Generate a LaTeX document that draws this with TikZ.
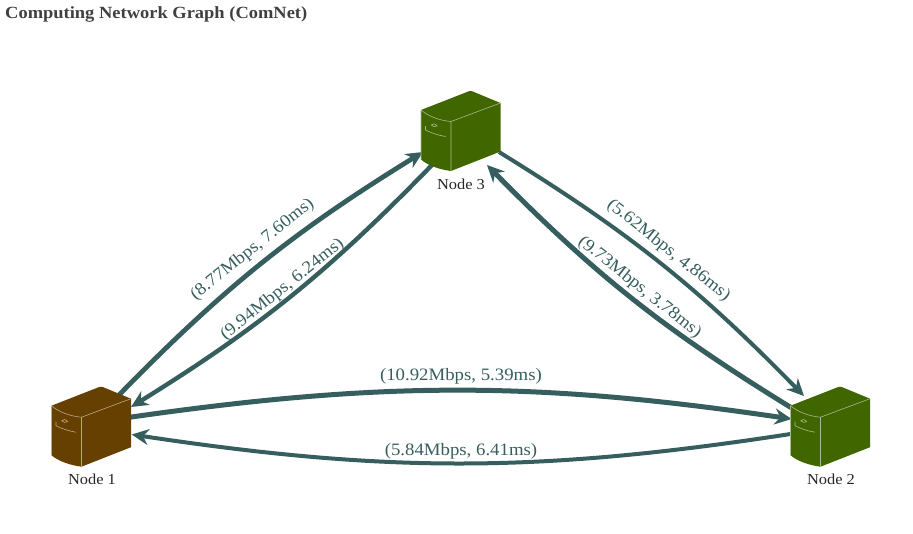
\documentclass[tikz,border=0pt]{standalone}
\usepackage{fontspec}
\setmainfont[FakeStretch=1.08]{Liberation Serif}
\usetikzlibrary{arrows.meta,backgrounds}
\definecolor{linkc}{HTML}{365E5E}
\definecolor{brownc}{HTML}{654000}
\definecolor{greenc}{HTML}{406600}
\tikzset{
  x=1pt,y=-1pt,
  srv/.style={minimum width=80pt,minimum height=80pt,inner sep=0pt,outer sep=0pt},
  nlabel/.style={font=\fontsize{15.2}{16}\selectfont,text=black!85,inner sep=0pt},
  link/.style={draw=linkc,line width=#1,-{Stealth[length=17pt,width=16pt,inset=5.5pt]},bend left=7},
  link/.default=4pt,
  elabel/.style={font=\fontsize{17.4}{19}\selectfont,text=linkc,inner sep=0pt},
}
\newcommand{\serverbody}[2]{%
  \begin{scope}[shift={(#1)}]
    \fill[#2] (-40,-21) -- (8,-39.8) .. controls (9,-40.2) and (10,-40.2) .. (11,-39.8) -- (39.5,-28) -- (39.5,20.5) -- (-10,40) .. controls (-22,38.5) and (-34,34) .. (-40,28.5) -- cycle;
    \draw[#2!45!white,line width=0.6pt,line join=round]
      (-40,-21) .. controls (-33,-15) and (-22,-10.5) .. (-10,-9.5) -- (39.5,-28)
      (-10,-9.5) -- (-10,40)
      (-40,-21) -- (-40,28.5)
      (-35.5,-5) -- (-35.5,-1) .. controls (-30,2) and (-22,4.5) .. (-15.5,5.5)
      (-29.8,-6) .. controls (-28,-8) and (-26,-7.5) .. (-23.8,-5) .. controls (-26,-3.8) and (-28,-4.2) .. cycle;
  \end{scope}}
\begin{document}
\begin{tikzpicture}
\useasboundingbox (0,0) rectangle (913,533);
\node[srv] (n1) at (91.5,426.7) {};
\node[srv] (n2) at (830.5,426.7) {};
\node[srv] (n3) at (461,131) {};
\serverbody{n1.center}{brownc}
\serverbody{n2.center}{greenc}
\serverbody{n3.center}{greenc}
\node[nlabel] (l1) at (92,479.5) {Node 1};
\node[nlabel] (l2) at (831,479.5) {Node 2};
\node[nlabel] (l3) at (461,184.5) {Node 3};
\node[anchor=west,inner sep=0pt,font=\bfseries\fontsize{17.1}{18}\selectfont,text=black!75] (title) at (5,14.5) {Computing Network Graph (ComNet)};
\begin{scope}[on background layer]
\draw[link=4.8pt] ([shift={(26.5,-30.7)}]n1.center) to ([shift={(-38,21)}]n3.center);
\draw[link=4.4pt] ([shift={(-29,34)}]n3.center) to ([shift={(39.5,-19.7)}]n1.center);
\draw[link=4pt] ([shift={(38,21)}]n3.center) to ([shift={(-26.5,-30.7)}]n2.center);
\draw[link=5pt] ([shift={(-35.5,-16.7)}]n2.center) to ([shift={(26,34)}]n3.center);
\draw[link=5pt,bend left=8.3] ([shift={(33,-8.7)}]n1.center) to ([shift={(-38.8,-7.7)}]n2.center);
\draw[link=4pt,bend left=8.7] ([shift={(-33.5,6.3)}]n2.center) to ([shift={(40.2,7.8)}]n1.center);
\end{scope}
\node[elabel,rotate=38.6] (e1) at (252.5,249.5) {(8.77Mbps, 7.60ms)};
\node[elabel,rotate=38.6] (e2) at (282.5,289.5) {(9.94Mbps, 6.24ms)};
\node[elabel,rotate=-38.6] (e3) at (668.5,250.5) {(5.62Mbps, 4.86ms)};
\node[elabel,rotate=-38.6] (e4) at (639.5,287.5) {(9.73Mbps, 3.78ms)};
\node[elabel] (e5) at (461,376.5) {(10.92Mbps, 5.39ms)};
\node[elabel] (e6) at (461,451.5) {(5.84Mbps, 6.41ms)};
\end{tikzpicture}
\end{document}
